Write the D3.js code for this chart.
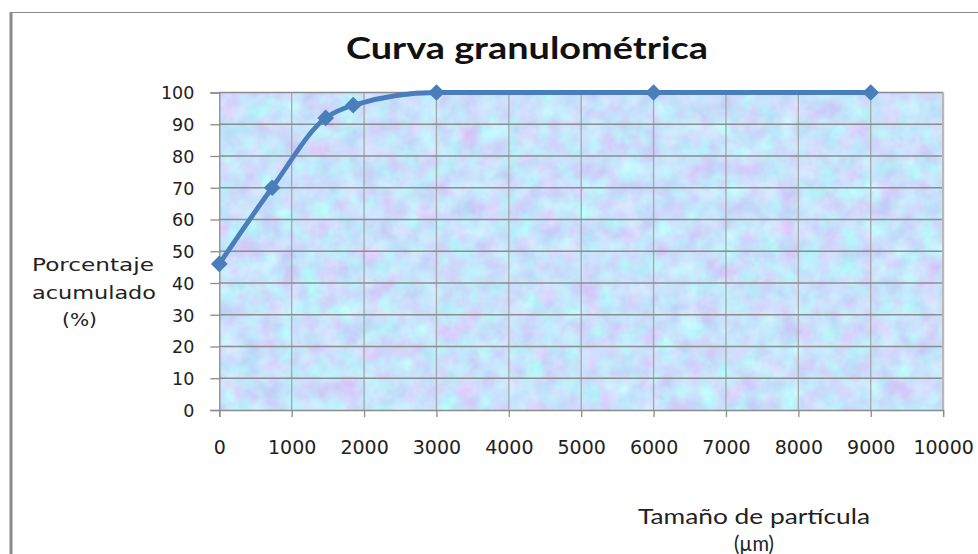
<!DOCTYPE html>
<html>
<head>
<meta charset="utf-8">
<script src="https://cdn.jsdelivr.net/npm/d3@7"></script>
<style>
  html, body { margin: 0; padding: 0; background: #fff; }
  svg { display: block; }
</style>
</head>
<body>
<svg id="chart" width="978" height="554"></svg>
<script>
// Particle size (µm) and cumulative passing percentage
const sizes = [0, 730, 1470, 1850, 3000, 6000, 9000];
const cumulative = [46, 70, 92, 96, 100, 100, 100];
const xTicks = [0, 1000, 2000, 3000, 4000, 5000, 6000, 7000, 8000, 9000, 10000];
const yTicks = [0, 10, 20, 30, 40, 50, 60, 70, 80, 90, 100];
const title = "Curva granulométrica";
const yTitleLines = ["Porcentaje", "acumulado", "(%)"];
const xTitleLines = ["Tamaño de partícula", "(µm)"];

const svg = d3.select("#chart");
const blue = "#4a7ebb";

const x = d3.scaleLinear().domain([0, 10000]).range([219.3, 943.1]);
const y = d3.scaleLinear().domain([0, 100]).range([410, 92.5]);

// Outer frame (left and top edges)
svg.append("line").attr("x1", 11).attr("x2", 11).attr("y1", 12).attr("y2", 554)
  .attr("stroke", "#8a8a8a").attr("stroke-width", 3);
svg.append("line").attr("x1", 10).attr("x2", 978).attr("y1", 12.5).attr("y2", 12.5)
  .attr("stroke", "#8a8a8a").attr("stroke-width", 1.2);

// Soft pastel texture for the plot area
const defs = svg.append("defs");
const f = defs.append("filter").attr("id", "bouquet")
  .attr("x", 0).attr("y", 0).attr("width", "100%").attr("height", "100%")
  .attr("filterUnits", "objectBoundingBox")
  .attr("color-interpolation-filters", "sRGB");
f.append("feTurbulence").attr("type", "fractalNoise").attr("baseFrequency", "0.05")
  .attr("numOctaves", 3).attr("seed", 11).attr("result", "n");
f.append("feColorMatrix").attr("in", "n").attr("type", "matrix").attr("values",
  "0.2 -0.1 -0.1 0 0.785 " +
  "-0.1 0.25 -0.1 0 0.86 " +
  "0.03 0.03 -0.04 0 0.975 " +
  "0 0 0 0 1");

const x0 = x(0), x1 = x(10000), yTop = y(100), yBot = y(0);
svg.append("rect").attr("x", x0).attr("y", yTop).attr("width", x1 - x0).attr("height", yBot - yTop)
  .attr("fill", "#c8daf7");
svg.append("rect").attr("x", x0).attr("y", yTop).attr("width", x1 - x0).attr("height", yBot - yTop)
  .attr("fill", "#fff").attr("filter", "url(#bouquet)");

// Gridlines
svg.append("g").selectAll("line").data(xTicks.slice(1, -1)).join("line")
  .attr("x1", d => x(d)).attr("x2", d => x(d)).attr("y1", yTop).attr("y2", yBot)
  .attr("stroke", "#a6a6a6").attr("stroke-width", 1.3);
svg.append("g").selectAll("line").data(yTicks.slice(1)).join("line")
  .attr("x1", x0).attr("x2", x1).attr("y1", d => y(d)).attr("y2", d => y(d))
  .attr("stroke", "#8c8c8c").attr("stroke-width", 1.3);
// Right edge of plot
svg.append("line").attr("x1", x1).attr("x2", x1).attr("y1", yTop).attr("y2", yBot)
  .attr("stroke", "#b8b8b8").attr("stroke-width", 2.2);

// Y axis
const yAxis = svg.append("g").attr("transform", `translate(${x0},0)`)
  .call(d3.axisLeft(y).tickValues(yTicks).tickSize(9).tickPadding(16).tickFormat(d3.format("d")));
yAxis.select(".domain").attr("stroke", "#8c8c8c").attr("stroke-width", 1.3);
yAxis.selectAll(".tick line").attr("stroke", "#8c8c8c").attr("stroke-width", 1.3);
yAxis.selectAll("text").attr("font-family", "'DejaVu Sans', Verdana, sans-serif")
  .attr("font-size", 17.5).attr("fill", "#222").attr("dy", "0.36em");

// X axis
const xAxis = svg.append("g").attr("transform", `translate(0,${yBot})`)
  .call(d3.axisBottom(x).tickValues(xTicks).tickSize(7).tickPadding(24).tickFormat(d3.format("d")));
xAxis.select(".domain").attr("stroke", "#8c8c8c").attr("stroke-width", 1.3);
xAxis.selectAll(".tick line").attr("stroke", "#8c8c8c").attr("stroke-width", 1.3);
xAxis.selectAll("text").attr("font-family", "'DejaVu Sans', Verdana, sans-serif")
  .attr("font-size", 19).attr("fill", "#222");

// Smoothed curve and diamond markers
const pts = sizes.map((s, i) => [s, cumulative[i]]);
const line = d3.line().x(d => x(d[0])).y(d => y(d[1])).curve(d3.curveMonotoneX);
svg.append("path").datum(pts).attr("d", line)
  .attr("fill", "none").attr("stroke", blue).attr("stroke-width", 4.8)
  .attr("stroke-linejoin", "round");
svg.append("g").selectAll("path").data(pts).join("path")
  .attr("d", d3.symbol().type(d3.symbolSquare).size(140))
  .attr("transform", d => `translate(${x(d[0])},${y(d[1])}) rotate(45)`)
  .attr("fill", blue);

// Title
svg.append("text").attr("x", 527).attr("y", 59).attr("text-anchor", "middle")
  .attr("font-family", "Lato, 'Open Sans', sans-serif").attr("font-weight", "bold")
  .attr("font-size", 31).attr("fill", "#111")
  .attr("textLength", 362).attr("lengthAdjust", "spacingAndGlyphs")
  .text(title);

// Y axis title
const yTitle = [
  { t: yTitleLines[0], x: 32, y: 271, w: 122 },
  { t: yTitleLines[1], x: 32, y: 299, w: 124 },
  { t: yTitleLines[2], x: 62, y: 326, w: 35 }
];
svg.append("g").selectAll("text").data(yTitle).join("text")
  .attr("x", d => d.x).attr("y", d => d.y)
  .attr("font-family", "'DejaVu Sans', Verdana, sans-serif").attr("font-size", 18)
  .attr("fill", "#222")
  .attr("textLength", d => d.w).attr("lengthAdjust", "spacingAndGlyphs")
  .text(d => d.t);

// X axis title
const xTitle = [
  { t: xTitleLines[0], y: 524, w: 232 },
  { t: xTitleLines[1], y: 551, w: 40 }
];
svg.append("g").selectAll("text").data(xTitle).join("text")
  .attr("x", 754).attr("y", d => d.y).attr("text-anchor", "middle")
  .attr("font-family", "Lato, sans-serif").attr("font-size", 21)
  .attr("fill", "#222")
  .attr("textLength", d => d.w).attr("lengthAdjust", "spacingAndGlyphs")
  .text(d => d.t);
</script>
</body>
</html>
